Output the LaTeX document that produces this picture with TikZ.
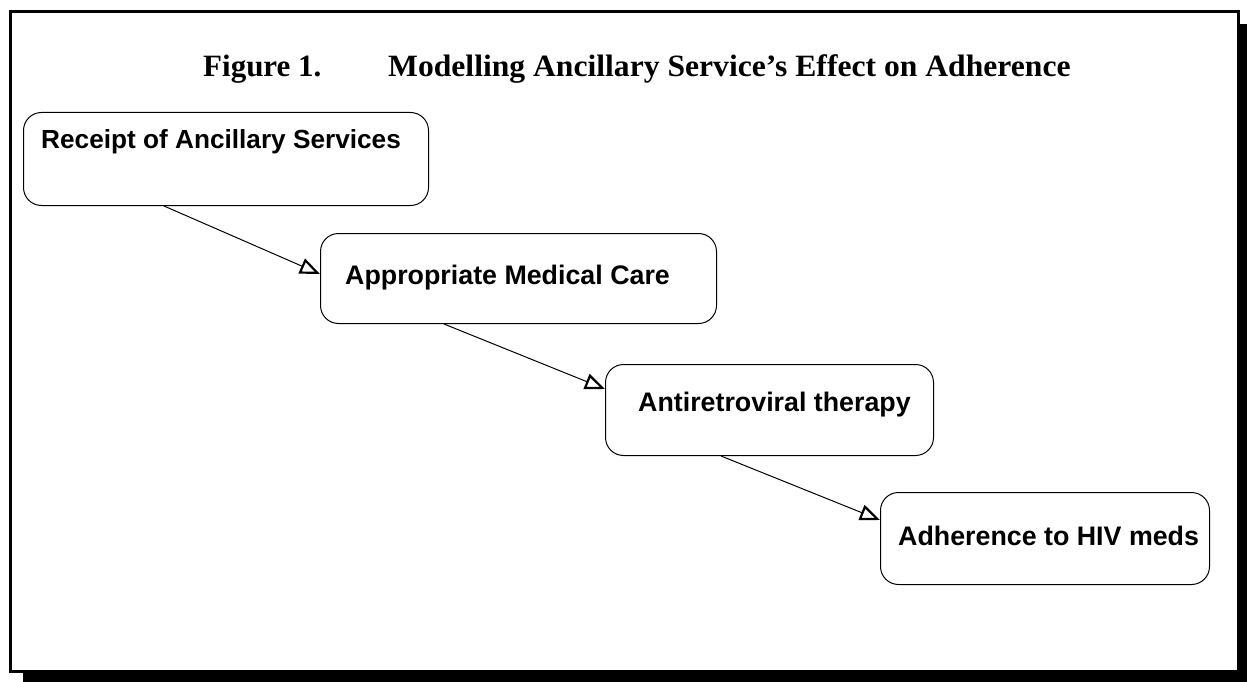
\documentclass[tikz,border=0pt]{standalone}
\usepackage{fontspec}
\setmainfont{Liberation Serif}
\newfontfamily\boxfont{Liberation Sans}
\usetikzlibrary{arrows.meta,calc}
\tikzset{
  box/.style={draw=black, line width=1pt, rounded corners=18pt, fill=white, anchor=north west, inner sep=0pt},
  boxtext/.style={anchor=base west, inner sep=0pt, font=\boxfont\bfseries\fontsize{26.8}{32}\selectfont},
  titletext/.style={anchor=base west, inner sep=0pt, font=\bfseries\fontsize{31}{36}\selectfont},
  arr/.style={draw=black, line width=1pt, -{Triangle[open,length=20pt,width=16pt,line width=2.2pt]}},
}
\begin{document}
\begin{tikzpicture}[x=1pt,y=-1pt]
\useasboundingbox (0,0) rectangle (1247,682);
% shadow and frame
\fill[black] (23,24) rectangle (1247,682);
\draw[line width=3pt, fill=white] (10.8,11.2) rectangle (1238.8,671.8);
% title
\node[titletext] (tfig) at (203,77) {Figure 1.};
\node[titletext] (ttitle) at (388,77) {\scalebox{1.02}[1]{Modelling Ancillary Service’s Effect on Adherence}};
% boxes
\node[box, minimum width=405pt, minimum height=93pt] (b1) at (23,112) {};
\node[box, minimum width=396pt, minimum height=90pt] (b2) at (320,233) {};
\node[box, minimum width=328pt, minimum height=91pt] (b3) at (605,364) {};
\node[box, minimum width=329pt, minimum height=92pt] (b4) at (880,492) {};
% texts
\node[boxtext, font=\boxfont\bfseries\fontsize{26.2}{32}\selectfont] (t1) at (41,149) {Receipt of Ancillary Services};
\node[boxtext] (t2) at (345,284) {Appropriate Medical Care};
\node[boxtext] (t3) at (638,411) {Antiretroviral therapy};
\node[boxtext] (t4) at (898,545) {Adherence to HIV meds};
% connectors
\draw[arr] ($(b1.south west)+(141,0)$) -- ($(b2.north west)+(0,41)$);
\draw[arr] ($(b2.south west)+(124,0)$) -- ($(b3.north west)+(0,25)$);
\draw[arr] ($(b3.south west)+(116,0)$) -- ($(b4.north west)+(0,28)$);
\end{tikzpicture}
\end{document}
